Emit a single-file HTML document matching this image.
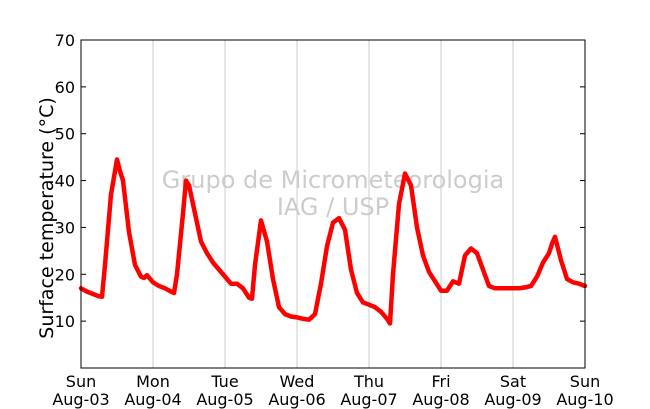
<!DOCTYPE html>
<html><head><meta charset="utf-8"><style>
body{margin:0;background:#fff;}
svg{display:block;font-family:"DejaVu Sans","Liberation Sans",sans-serif;}
</style></head><body>
<svg id="chart" width="650" height="409">
<g id="grid"></g>
<text x="333" y="188" font-size="24" fill="#cccccc" text-anchor="middle">Grupo de Micrometeorologia</text>
<text x="333" y="215" font-size="24" fill="#cccccc" text-anchor="middle">IAG / USP</text>
<g id="series"></g>
<rect x="81" y="40" width="504" height="328" fill="none" stroke="#000" stroke-width="1"/>
<g id="axes"></g>
<text transform="translate(53,218) rotate(-90)" font-size="19" text-anchor="middle">Surface temperature (°C)</text>
</svg>
<script>
const hours=[0,2,4,6,7,8,10,12,13,14,16,18,20,21,22,
24,26,28,30,31,32,34,35,36,38,40,42,44,46,
48,50,52,54,56,57,58,60,62,64,66,68,70,
72,74,76,78,80,82,84,86,88,90,92,94,
96,98,100,102,103,104,106,108,110,112,114,116,118,
120,122,124,126,128,130,132,134,136,138,140,142,
144,146,148,150,152,154,156,157,158,160,162,164,166,168];
const temps=[17,16.3,15.8,15.3,15.2,22,37,44.5,42,40,29,22,19.5,19.2,19.8,
18.3,17.5,17,16.3,16,20,33,40,39,33,27,24.5,22.5,21,
19.5,18,18,17,15,14.8,22,31.5,27,19,13,11.5,11,
10.8,10.5,10.3,11.5,18,26,31,32,29.5,21,16,14,
13.5,13,12,10.5,9.5,20,35,41.5,39,30,24,20.5,18.5,
16.5,16.5,18.5,18,24,25.5,24.5,21,17.5,17,17,17,
17,17,17.2,17.5,19.5,22.5,24.5,26.5,28,23,19,18.3,18,17.5];
const yTicks=[10,20,30,40,50,60,70];
const dayNames=["Sun","Mon","Tue","Wed","Thu","Fri","Sat","Sun"];
const dayDates=["Aug-03","Aug-04","Aug-05","Aug-06","Aug-07","Aug-08","Aug-09","Aug-10"];
const NS="http://www.w3.org/2000/svg";
const X0=81,X1=585,Y0=368,Y1=40;
const xs=h=>X0+(h/168)*(X1-X0);
const ys=v=>Y0-(v/70)*(Y0-Y1);
function mk(t,a,p){const e=document.createElementNS(NS,t);for(const k in a)e.setAttribute(k,a[k]);p.appendChild(e);return e;}
const grid=document.getElementById('grid'),axes=document.getElementById('axes'),series=document.getElementById('series');
dayNames.forEach((d,i)=>{
  const x=xs(i*24);
  if(i>0&&i<7){const g=mk('line',{x1:x,x2:x,y1:Y1,y2:Y0,stroke:'#cccccc','stroke-width':1},grid);
  
  }
  const t=mk('text',{x:x,y:387,'font-size':16,'text-anchor':'middle'},axes);
  
  
  t.textContent=d;
  const t2=mk('text',{x:x,y:405,'font-size':16,'text-anchor':'middle'},axes);
  
  
  t2.textContent=dayDates[i];
});
yTicks.forEach(v=>{
  const y=ys(v);
  const l=mk('line',{x1:X0,x2:X0+5,y1:y,y2:y,stroke:'#000'},axes);
  
  
  const r=mk('line',{x1:X1-5,x2:X1,y1:y,y2:y,stroke:'#000'},axes);
  
  
  const t=mk('text',{x:75,y:y+6,'font-size':16,'text-anchor':'end'},axes);
  
  
  t.textContent=v;
});
const n=Math.min(hours.length,temps.length);
const pts=hours.slice(0,n).map((h,i)=>xs(h).toFixed(1)+','+ys(temps[i]).toFixed(1)).join(' ');
const pl=mk('polyline',{points:pts,fill:'none',stroke:'#ff0000','stroke-width':4.5,'stroke-linejoin':'round','stroke-linecap':'round'},series);


</script>
</body></html>
